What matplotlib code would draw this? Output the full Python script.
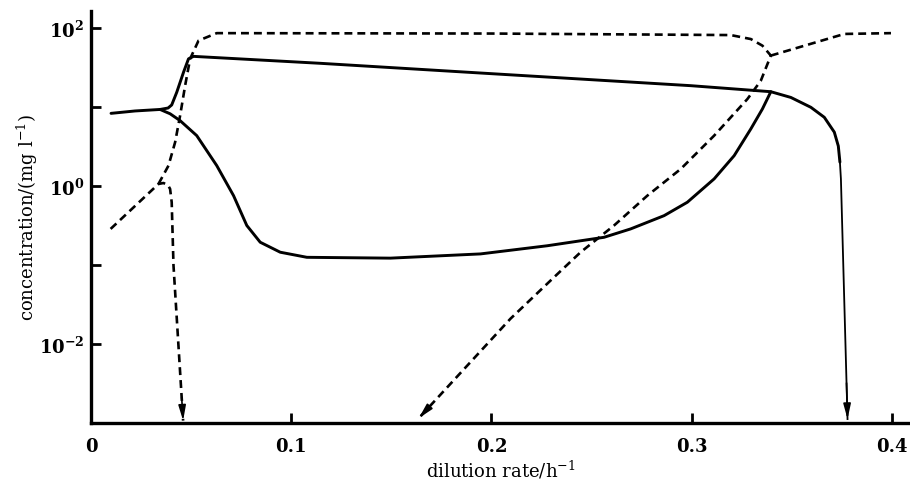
import numpy as np
import matplotlib
matplotlib.use('Agg')
import matplotlib.pyplot as plt

plt.rcParams['font.family'] = ['DejaVu Serif']
plt.rcParams['mathtext.fontset'] = 'dejavuserif'

# ===== 데이터 (그림에서 읽은 값, mg/l) =====
# 위쪽 실선 (0.035 부근 분기 -> 위로 -> 0.375 부근 급락)
solid_a_x = [0.010, 0.022, 0.0345, 0.0385, 0.0403, 0.0428, 0.0462, 0.0487, 0.0512,
             0.1145, 0.1945, 0.2995, 0.3395, 0.3495, 0.3595, 0.3662, 0.3712,
             0.3732, 0.374, 0.3745, 0.3778]
solid_a_y = [8.3, 8.9, 9.3, 9.7, 10.6, 15.3, 27.5, 40.7, 43.7,
             35.7, 26.9, 18.6, 15.6, 13.2, 9.9, 7.4, 4.8,
             3.2, 2.0, 1.23, 0.00112]

# 아래쪽 실선 (분기 후 최소값 -> 다시 상승해 위쪽 실선과 만남)
solid_b_x = [0.0345, 0.0395, 0.0445, 0.0528, 0.0628, 0.0712, 0.0778, 0.0845, 0.0945,
             0.1078, 0.1495, 0.1945, 0.2278, 0.2562, 0.2695, 0.2862, 0.2978,
             0.3112, 0.3212, 0.3295, 0.3353, 0.3395]
solid_b_y = [9.3, 8.2, 6.71, 4.34, 1.81, 0.753, 0.316, 0.194, 0.145,
             0.125, 0.122, 0.138, 0.175, 0.224, 0.286, 0.421, 0.622,
             1.23, 2.42, 5.27, 9.44, 15.6]

# 왼쪽 점선 (0.036 부근 최대 후 화살표로 하강)
dash_a_x = [0.0098, 0.0337, 0.0362, 0.0385, 0.0395, 0.0403, 0.0412, 0.046]
dash_a_y = [0.286, 1.06, 1.09, 1.02, 0.916, 0.622, 0.098, 0.00107]

# 긴 점선 (상승 -> 평탄 -> 0.34에서 꺾여 화살표로 하강)
dash_b_x = [0.0337, 0.0387, 0.042, 0.0445, 0.047, 0.0495, 0.0537, 0.0628, 0.2,
            0.3195, 0.3295, 0.3353, 0.3395, 0.3345, 0.3278, 0.3112, 0.2945,
            0.2778, 0.2612, 0.2445, 0.2312, 0.2095, 0.1637]
dash_b_y = [1.06, 1.81, 3.57, 7.76, 18.6, 40.7, 69.2, 86.0, 85.0,
            81.3, 72.4, 59.7, 44.7, 21.5, 12.6, 4.34, 1.64,
            0.753, 0.316, 0.145, 0.0698, 0.0209, 0.00115]

# 오른쪽 점선 (0.34에서 위로 -> 평탄)
dash_c_x = [0.3395, 0.3762, 0.3995]
dash_c_y = [44.7, 84.0, 86.0]

x_ticks = [0, 0.1, 0.2, 0.3, 0.4]
x_tick_labels = ['0', '0.1', '0.2', '0.3', '0.4']
y_ticks = [1e-2, 1e-1, 1e0, 1e1, 1e2]
y_tick_labels = [r'$\mathbf{10^{-2}}$', '', r'$\mathbf{10^{0}}$', '', r'$\mathbf{10^{2}}$']


def arrow_at_end(ax, xs, ys, lw):
    """곡선 끝에 화살촉 그리기 (마지막 두 점의 방향)"""
    x1, y1 = xs[-1], ys[-1]
    x0, y0 = xs[-2], ys[-2]
    f = 0.15
    xs0 = x1 - f * (x1 - x0)
    ys0 = 10 ** (np.log10(y1) - f * (np.log10(y1) - np.log10(y0)))
    ax.annotate('', xy=(x1, y1), xytext=(xs0, ys0),
                arrowprops=dict(arrowstyle='-|>,head_length=0.9,head_width=0.22',
                                color='black', lw=lw, shrinkA=0, shrinkB=0))


fig = plt.figure(figsize=(9.1, 4.89), dpi=100)
ax = fig.add_axes([0.1, 0.133, 0.9, 0.8425])

# 위쪽 실선: 마지막 수직 낙하 구간은 가늘게
ax.plot(solid_a_x[:-2], solid_a_y[:-2], color='black', lw=2.1, solid_capstyle='round')
ax.plot(solid_a_x[-3:], solid_a_y[-3:], color='black', lw=1.3)
ax.plot(solid_b_x, solid_b_y, color='black', lw=2.1, solid_capstyle='round')
ax.plot(dash_a_x, dash_a_y, color='black', lw=1.9, dashes=(3.0, 1.9))
ax.plot(dash_b_x, dash_b_y, color='black', lw=1.9, dashes=(3.0, 1.9))
ax.plot(dash_c_x, dash_c_y, color='black', lw=1.9, dashes=(3.0, 1.9))

arrow_at_end(ax, solid_a_x, solid_a_y, 1.2)
arrow_at_end(ax, dash_a_x, dash_a_y, 1.2)
arrow_at_end(ax, dash_b_x, dash_b_y, 1.2)

ax.set_yscale('log')
ax.set_xlim(0, 0.409)
ax.set_ylim(1e-3, 10 ** 2.215)

ax.set_xticks(x_ticks)
ax.set_xticklabels(x_tick_labels, fontsize=13, fontweight='bold')
ax.set_yticks(y_ticks)
ax.set_yticklabels(y_tick_labels, fontsize=13)
ax.minorticks_off()
ax.tick_params(axis='both', direction='in', length=7, width=2.0)
ax.tick_params(axis='x', pad=10)
ax.tick_params(axis='y', pad=5)

for side in ['top', 'right']:
    ax.spines[side].set_visible(False)
for side in ['left', 'bottom']:
    ax.spines[side].set_linewidth(2.4)

ax.set_xlabel(r'dilution rate/h$^{-1}$', fontsize=13, labelpad=2)
ax.set_ylabel(r'concentration/(mg l$^{-1}$)', fontsize=13, labelpad=-1)

fig.savefig('out.png', dpi=100)
